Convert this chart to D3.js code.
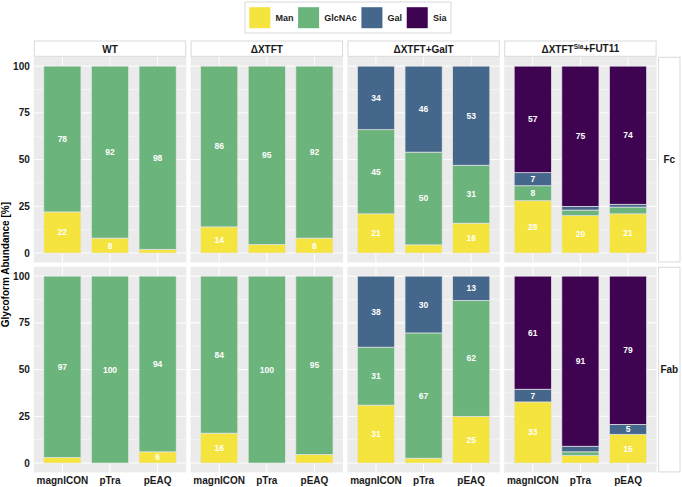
<!DOCTYPE html>
<html><head><meta charset="utf-8">
<script src="https://cdn.jsdelivr.net/npm/d3@7"></script>
<style>body{margin:0;background:#fff}svg{display:block}text{font-family:"Liberation Sans",Arial,sans-serif;font-weight:bold}</style>
</head><body><svg id="c" width="682" height="487"></svg>
<script>
// ---- data ----
const constructs = ["WT", "ΔXTFT", "ΔXTFT+GalT", "ΔXTFTSia+FUT11"];
const constructMain = ["WT", "ΔXTFT", "ΔXTFT+GalT", "ΔXTFT"];
const constructSup = ["", "", "", "Sia"];
const constructTail = ["", "", "", "+FUT11"];
const vectors = ["magnICON", "pTra", "pEAQ"];
const regions = ["Fc", "Fab"];
const glycans = ["Man", "GlcNAc", "Gal", "Sia"];
const glycanColors = ["#F5E43D", "#6BB47B", "#46678C", "#3E0452"];
const yTicks = [0, 25, 50, 75, 100];
// values: 12 per array, ordered construct by construct, vectors magnICON, pTra, pEAQ
const fcMan    = [22, 8, 2,   14, 4.6, 8,     21, 4.4, 16,   28, 20, 21];
const fcGlcNAc = [78, 92, 98, 86, 95.4, 92,   45, 49.6, 31,  8, 3, 3.6];
const fcGal    = [0, 0, 0,    0, 0, 0,        34, 46, 53,    7, 2, 1.5];
const fcSia    = [0, 0, 0,    0, 0, 0,        0, 0, 0,       57, 75, 73.9];
const fabMan    = [3, 0, 6,     16, 0, 4.6,    31, 2.6, 25,   32.7, 4, 15.4];
const fabGlcNAc = [97, 100, 94, 84, 100, 95.4, 31, 67, 62,    0, 2, 0];
const fabGal    = [0, 0, 0,     0, 0, 0,       38, 30.4, 13,  6.8, 3, 5.3];
const fabSia    = [0, 0, 0,     0, 0, 0,       0, 0, 0,       60.5, 91, 79.3];
const regionValues = [[fcMan, fcGlcNAc, fcGal, fcSia], [fabMan, fabGlcNAc, fabGal, fabSia]];

// ---- layout ----
const svg = d3.select("#c");
const panelLeft0 = 33.8, panelW = 152.4, panelStep = 156.8;
const rowTops = [56.8, 266.8], rowH = 205.6;
const stripTop = 41, stripH = 15.8;
const rightStripX = 658.6, rightStripW = 21.4;
const panelBg = "#EBEBEB";

const y0 = d3.scaleLinear().domain([-5, 105]);
const minorTicks = [12.5, 37.5, 62.5, 87.5];

regions.forEach((reg, ri) => {
  const top = rowTops[ri];
  const y = y0.copy().range([top + rowH, top]);
  constructs.forEach((con, ci) => {
    const left = panelLeft0 + ci * panelStep;
    const x = d3.scaleLinear().domain([-0.6, 2.6]).range([left, left + panelW]);
    const g = svg.append("g");
    g.append("rect").attr("x", left).attr("y", top).attr("width", panelW).attr("height", rowH).attr("fill", panelBg);
    g.selectAll(".mn").data(minorTicks).enter().append("line")
      .attr("x1", left).attr("x2", left + panelW).attr("y1", d => y(d)).attr("y2", d => y(d))
      .attr("stroke", "#fff").attr("stroke-width", 0.5);
    g.selectAll(".mj").data(yTicks).enter().append("line")
      .attr("x1", left).attr("x2", left + panelW).attr("y1", d => y(d)).attr("y2", d => y(d))
      .attr("stroke", "#fff").attr("stroke-width", 1);
    g.selectAll(".vx").data(vectors).enter().append("line")
      .attr("x1", (d, i) => x(i)).attr("x2", (d, i) => x(i)).attr("y1", top).attr("y2", top + rowH)
      .attr("stroke", "#fff").attr("stroke-width", 1);
    const bw = x(0.78) - x(0);
    vectors.forEach((v, vi) => {
      let cum = 0;
      glycans.forEach((gl, gi) => {
        const val = regionValues[ri][gi][ci * 3 + vi];
        if (val <= 0) return;
        const a = cum, b = cum + val;
        cum = b;
        g.append("rect").attr("x", x(vi) - bw / 2).attr("width", bw)
          .attr("y", y(b)).attr("height", y(a) - y(b))
          .attr("fill", glycanColors[gi]).attr("stroke", "#E6E6E6").attr("stroke-width", 0.7);
        if (val >= 5) {
          g.append("text").attr("x", x(vi)).attr("y", y((a + b) / 2)).attr("dy", "0.35em")
            .attr("text-anchor", "middle").attr("fill", "#fff").attr("font-size", 8.5)
            .text(Math.round(val));
        }
      });
    });
    if (ri === 0) {
      svg.append("rect").attr("x", left + 0.5).attr("y", stripTop).attr("width", panelW - 1).attr("height", stripH - 0.5)
        .attr("fill", "#fff").attr("stroke", "#D9D9D9").attr("stroke-width", 1);
      const t = svg.append("text").attr("x", left + panelW / 2).attr("y", stripTop + stripH / 2).attr("dy", "0.36em")
        .attr("text-anchor", "middle").attr("font-size", 10).attr("fill", "#1a1a1a");
      t.append("tspan").text(constructMain[ci]);
      if (constructSup[ci]) {
        t.append("tspan").attr("font-size", 6.5).attr("dy", "-0.55em").text(constructSup[ci]);
        t.append("tspan").attr("dy", "0.35em").text(constructTail[ci]);
      }
    }
    if (ri === 1) {
      vectors.forEach((v, vi) => {
        svg.append("text").attr("x", x(vi)).attr("y", top + rowH + 11.6).attr("text-anchor", "middle")
          .attr("font-size", 10).attr("fill", "#1a1a1a").text(v);
      });
    }
    if (ci === 0) {
      yTicks.forEach(tk => {
        svg.append("text").attr("x", left - 4).attr("y", y(tk)).attr("dy", "0.35em").attr("text-anchor", "end")
          .attr("font-size", 10).attr("fill", "#1a1a1a").text(tk);
      });
    }
  });
  svg.append("rect").attr("x", rightStripX).attr("y", top + 0.5).attr("width", rightStripW).attr("height", rowH - 1)
    .attr("fill", "#fff").attr("stroke", "#D9D9D9").attr("stroke-width", 1);
  svg.append("text").attr("x", rightStripX + rightStripW / 2).attr("y", top + rowH / 2).attr("dy", "0.36em")
    .attr("text-anchor", "middle").attr("font-size", 10).attr("fill", "#1a1a1a").text(reg);
});

svg.append("text").attr("transform", `translate(9.3,${(rowTops[0] + rowTops[1] + rowH) / 2}) rotate(-90)`)
  .attr("text-anchor", "middle").attr("font-size", 10).attr("fill", "#000").text("Glycoform Abundance [%]");

const lg = svg.append("g");
const legBox = lg.append("rect").attr("y", 2).attr("height", 31).attr("fill", "#fff").attr("stroke", "#D9D9D9").attr("stroke-width", 1);
let lx = 249.3;
const keyS = 21;
glycans.forEach((gl, i) => {
  lg.append("rect").attr("x", lx).attr("y", 7.2).attr("width", keyS).attr("height", keyS).attr("fill", glycanColors[i]);
  const t = lg.append("text").attr("x", lx + keyS + 5.2).attr("y", 17.7).attr("dy", "0.35em")
    .attr("font-size", 9).attr("fill", "#1a1a1a").text(gl);
  lx = lx + keyS + 5.2 + t.node().getComputedTextLength() + 4.6;
});
legBox.attr("x", 245).attr("width", lx - 4.6 + 4.5 - 245);
</script></body></html>
